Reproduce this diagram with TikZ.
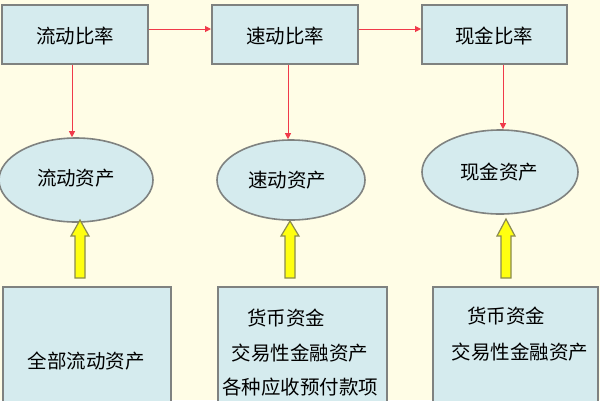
\documentclass[tikz,border=0pt]{standalone}
\usepackage{fontspec}
\setmainfont{Noto Sans CJK SC}
\usetikzlibrary{arrows.meta,shapes.geometric,shapes.arrows}
\definecolor{bgc}{HTML}{FFFDE6}
\definecolor{boxc}{HTML}{D5EBEE}
\definecolor{edgec}{HTML}{7F8280}
\definecolor{redc}{HTML}{F03A4A}
\definecolor{yelc}{HTML}{FFFF10}
\definecolor{yeledge}{HTML}{8A8A50}
\begin{document}
\begin{tikzpicture}[x=1pt,y=-1pt,
  ratiobox/.style={draw=edgec,line width=2pt,fill=boxc},
  assetell/.style={ellipse,draw=edgec,line width=1.6pt,fill=boxc,inner sep=0pt},
  lbl/.style={font=\fontsize{19.5}{23}\selectfont,text=black,inner sep=0pt},
  redarrow/.style={draw=redc,line width=1pt,-{Triangle[length=6pt,width=6pt]}},
  yelarrow/.style={draw=yeledge,line width=1.2pt,fill=yelc}]
\useasboundingbox (0,0) rectangle (600,400);
\fill[bgc] (0,0) rectangle (600,400);
% top boxes
\draw[ratiobox] (2,5) rectangle (148,64);
\draw[ratiobox] (212,5) rectangle (358,64);
\draw[ratiobox] (422,5) rectangle (567,64);
\node[lbl] (r1) at (75,36) {流动比率};
\node[lbl] (r2) at (285,36) {速动比率};
\node[lbl] (r3) at (494,36) {现金比率};
\coordinate (r1e) at (149,29);
\coordinate (r2w) at (211,29);
\coordinate (r2e) at (359,29);
\coordinate (r3w) at (421,29);
\coordinate (r1s) at (72,65);
\coordinate (r2s) at (288,65);
\coordinate (r3s) at (503,65);
% ellipses
\node[assetell,minimum width=154pt,minimum height=84pt] (e1) at (76,180) {};
\node[assetell,minimum width=148pt,minimum height=80pt] (e2) at (291,180) {};
\node[assetell,minimum width=156pt,minimum height=84pt] (e3) at (500,172) {};
\node[lbl] (t1) at (76,178) {流动资产};
\node[lbl] (t2) at (287,180) {速动资产};
\node[lbl] (t3) at (499,172) {现金资产};
% red arrows
\draw[redarrow] (r1e) -- (r2w);
\draw[redarrow] (r2e) -- (r3w);
\draw[redarrow] (r1s) -- (e1.north -| r1s);
\draw[redarrow] (r2s) -- (e2.north -| r2s);
\draw[redarrow] (r3s) -- (e3.north -| r3s);
% bottom boxes
\draw[ratiobox] (3,287) rectangle (171,402);
\draw[ratiobox] (218,287) rectangle (387,402);
\draw[ratiobox] (433,287) rectangle (598,402);
\node[lbl] (b1) at (86,361) {全部流动资产};
\node[lbl] (b2a) at (286,318) {货币资金};
\node[lbl] (b2b) at (300,353) {交易性金融资产};
\node[lbl] (b2c) at (300,387) {各种应收预付款项};
\node[lbl] (b3a) at (506,316) {货币资金};
\node[lbl] (b3b) at (520,352) {交易性金融资产};
% yellow block arrows
\foreach \cx/\ty in {80/220, 290/221, 506/219}{
  \draw[yelarrow] (\cx-5,278) -- (\cx-5,236) -- (\cx-9,236) -- (\cx,\ty) -- (\cx+9,236) -- (\cx+5,236) -- (\cx+5,278) -- cycle;
}
\end{tikzpicture}
\end{document}
